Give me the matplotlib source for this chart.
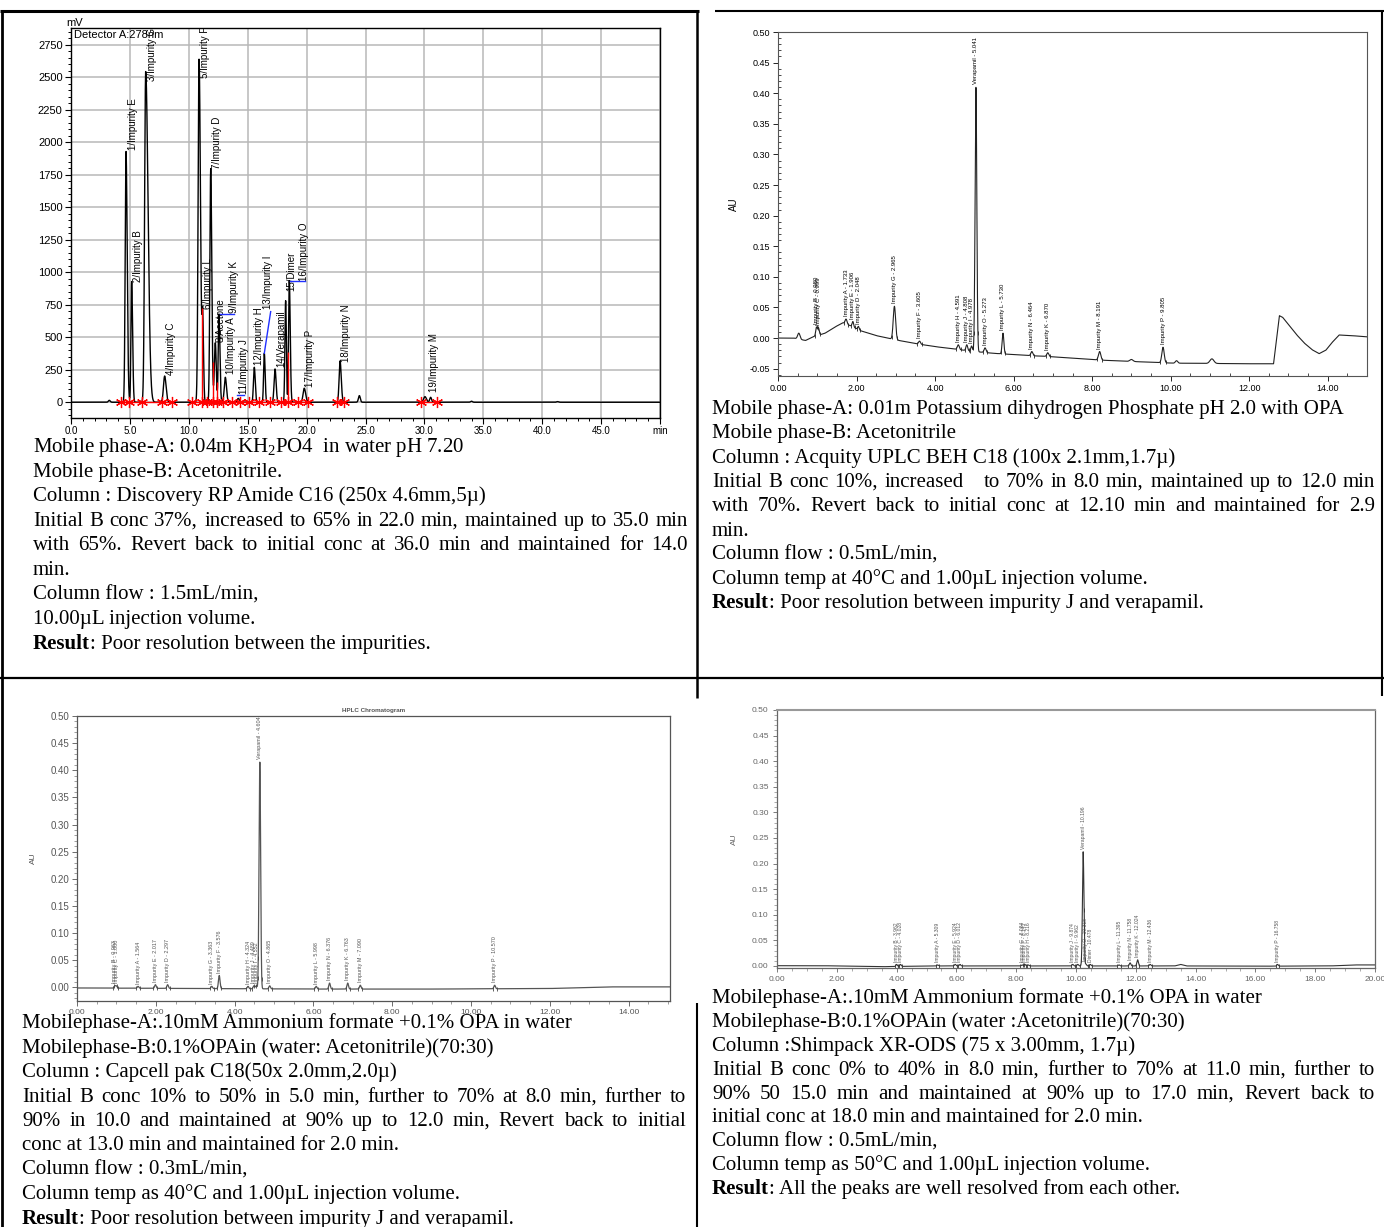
import numpy as np
import matplotlib
matplotlib.use("Agg")
from matplotlib import pyplot as plt
from matplotlib.ticker import MultipleLocator

W, H = 1384, 1227
plt.rcParams['font.family'] = ['Liberation Sans', 'DejaVu Sans']
plt.rcParams['mathtext.fontset'] = 'custom'
plt.rcParams['mathtext.rm'] = 'Liberation Serif'
plt.rcParams['mathtext.it'] = 'Liberation Serif:italic'

# ---------------- top left chromatogram (mV) ----------------
tl_names = ['1/Impurity E', '2/Impurity B', '3/Impurity G', '4/Impurity C', '5/Impurity F',
            '6/Impurity L', '7/Impurity D', '8/Acetone', '9/Impurity K', '10/Impurity A',
            '11/Impurity J', '12/Impurity H', '13/Impurity I', '14/Verapamil', '15/Dimer',
            '16/Impurity O', '17/Impurity P', '18/Impurity N', '19/Impurity M']
tl_times = [4.67, 5.15, 6.34, 7.95, 10.87, 11.18, 11.86, 12.25, 12.56, 13.1,
            14.2, 15.56, 16.41, 17.32, 18.22, 18.53, 19.8, 22.84, 30.05]
tl_apex = [1928, 928, 2543, 202, 2638, 723, 1797, 458, 679, 192,
           30, 269, 377, 256, 781, 935, 108, 318, 43]
tl_sig_l = [0.07, 0.06, 0.09, 0.1, 0.08, 0.06, 0.07, 0.08, 0.06, 0.09,
            0.1, 0.07, 0.06, 0.08, 0.06, 0.06, 0.1, 0.08, 0.12]
tl_sig_r = [0.1, 0.08, 0.2, 0.12, 0.12, 0.07, 0.09, 0.08, 0.08, 0.1,
            0.1, 0.08, 0.07, 0.09, 0.06, 0.08, 0.12, 0.1, 0.12]
tl_small_times = [3.25, 24.48, 30.53, 34.0, 41.3]
tl_small_apex = [15, 51, 38, 8, 5]
tl_label_t = [5.29, 5.71, 6.9, 8.46, 11.37, 11.66, 12.37, 12.73, 13.8, 13.55,
              14.69, 15.99, 16.75, 17.83, 18.72, 19.78, 20.29, 23.34, 30.84]
tl_label_v = [1941, 928, 2474, 210, 2492, 718, 1795, 461, 684, 218,
              64, 287, 718, 269, 859, 935, 115, 312, 82]
tl_leaders = [(12.65, 679, 13.8, 679), (14.1, 55, 14.65, 55),
              (16.41, 377, 16.95, 697), (18.62, 935, 19.9, 935)]
tl_cuts = [4.24, 4.95, 6.0, 7.7, 8.55, 10.3, 11.15, 11.57, 12.03, 12.37, 12.88, 13.7,
           14.35, 15.14, 15.96, 16.92, 17.83, 18.45, 19.3, 20.15, 22.55, 23.2, 29.71, 31.04]
tl_drops = [11.15, 12.03, 12.37, 12.88, 18.45]
tl_segments = [(4.24, 8.55), (10.3, 20.15), (22.55, 23.2), (29.71, 31.04)]

# ---------------- top right chromatogram (AU) ----------------
tr_names = ['Impurity B - 0.980', 'Impurity C - 0.999', 'Impurity A - 1.733', 'Impurity E - 1.906',
            'Impurity D - 2.048', 'Impurity G - 2.965', 'Impurity F - 3.605', 'Impurity H - 4.591',
            'Impurity J - 4.808', 'Impurity I - 4.978', 'Verapamil - 5.041', 'Impurity O - 5.273',
            'Impurity L - 5.730', 'Impurity N - 6.464', 'Impurity K - 6.870', 'Impurity M - 8.191',
            'Impurity P - 9.805']
tr_times = [0.98, 1.03, 1.733, 1.906, 2.048, 2.965, 3.605, 4.591, 4.808, 4.93,
            5.041, 5.273, 5.73, 6.464, 6.87, 8.191, 9.805]
tr_apex = [0.018, 0.017, 0.031, 0.027, 0.019, 0.052, -0.005, -0.011, -0.011, -0.013,
           0.41, -0.016, 0.008, -0.022, -0.024, -0.022, -0.015]
tr_sigma = [0.02, 0.02, 0.025, 0.02, 0.02, 0.03, 0.025, 0.025, 0.022, 0.02,
            0.022, 0.025, 0.022, 0.025, 0.025, 0.03, 0.03]
tr_small_times = [0.53, 9.0, 10.15, 11.05]
tr_small_apex = [0.008, -0.035, -0.037, -0.034]
tr_small_sigma = [0.03, 0.04, 0.03, 0.05]
tr_base_t = [0, 0.4, 0.7, 0.9, 1.2, 1.45, 1.65, 1.85, 2.1, 2.5, 3.0, 3.5, 4.0, 4.5, 5.0, 5.5,
             6.0, 6.5, 6.85, 8.2, 8.9, 10.06, 12.0, 12.62, 12.7, 12.77, 12.85, 13.0, 13.2,
             13.4, 13.6, 13.78, 13.95, 14.1, 14.29, 14.6, 15.0]
tr_base_v = [0, 0, -0.004, 0.002, 0.008, 0.018, 0.025, 0.02, 0.012, 0.004, -0.003, -0.009,
             -0.014, -0.018, -0.022, -0.025, -0.027, -0.029, -0.030, -0.036, -0.038, -0.041,
             -0.042, -0.042, 0.0, 0.0365, 0.034, 0.022, 0.006, -0.008, -0.019, -0.0255,
             -0.02, -0.008, 0.005, 0.004, 0.002]

# ---------------- bottom left chromatogram (AU) ----------------
bl_names = ['Impurity B - 0.963', 'Impurity C - 1.000', 'Impurity A - 1.564', 'Impurity E - 2.017',
            'Impurity D - 2.297', 'Impurity G - 3.363', 'Impurity F - 3.576', 'Impurity H - 4.324',
            'Impurity J - 4.489', 'Impurity I - 4.552', 'Verapamil - 4.604', 'Impurity O - 4.865',
            'Impurity L - 5.998', 'Impurity N - 6.376', 'Impurity K - 6.763', 'Impurity M - 7.090',
            'Impurity P - 10.570']
bl_times = [0.96, 1.0, 1.55, 1.99, 2.30, 3.42, 3.61, 4.34, 4.49, 4.55, 4.64, 4.89,
            6.07, 6.41, 6.87, 7.19, 10.6]
bl_apex = [0.003, 0.003, 0.002, 0.005, 0.005, 0.002, 0.022, 0.002, 0.003, 0.003, 0.415,
           0.003, 0.002, 0.008, 0.008, 0.004, 0.004]
bl_base_t = [0, 3, 6, 9, 12, 13.5, 15.05]
bl_base_v = [-0.001, -0.002, -0.003, -0.003, -0.002, 0.001, 0.001]

# ---------------- bottom right chromatogram (AU) ----------------
br_names = ['Impurity B - 3.962', 'Impurity C - 4.028', 'Impurity A - 5.309', 'Impurity E - 5.924',
            'Impurity D - 6.012', 'Impurity G - 8.084', 'Impurity F - 8.143', 'Impurity H - 8.216',
            'Impurity J - 9.874', 'Impurity I - 9.962', 'Verapamil - 10.196', 'Impurity O - 10.318',
            'Dimer - 10.478', 'Impurity L - 11.395', 'Impurity N - 11.758', 'Impurity K - 12.024',
            'Impurity M - 12.436', 'Impurity P - 16.758']
br_times = [4.0, 4.13, 5.37, 5.96, 6.12, 8.2, 8.29, 8.4, 9.89, 10.06, 10.24, 10.33,
            10.48, 11.44, 11.81, 12.06, 12.48, 16.74]
br_apex = [0.003, 0.003, 0.002, 0.003, 0.003, 0.002, 0.003, 0.002, 0.003, 0.003, 0.223,
           0.004, 0.003, 0.002, 0.006, 0.012, 0.003, 0.003]
br_base_t = [0, 1.5, 3.5, 5, 13.3, 13.5, 13.7, 16, 18.5, 19.3, 20]
br_base_v = [0.0005, 0.0005, -0.0015, 0, 0, 0.003, 0, -0.0005, 0, 0.002, 0.002]

# ---------------- text below the charts ----------------
tl_text = ['Mobile phase-A: 0.04m KH$_2$PO4  in water pH 7.20',
           'Mobile phase-B: Acetonitrile.',
           'Column : Discovery RP Amide C16 (250x 4.6mm,5\u00b5)',
           'Initial B conc 37%, increased to 65% in 22.0 min, maintained up to 35.0 min',
           'with 65%. Revert back to initial conc at 36.0 min and maintained for 14.0',
           'min.',
           'Column flow : 1.5mL/min,',
           '10.00\u00b5L injection volume.']
tl_result = ': Poor resolution between the impurities.'
tr_text = ['Mobile phase-A: 0.01m Potassium dihydrogen Phosphate pH 2.0 with OPA',
           'Mobile phase-B: Acetonitrile',
           'Column : Acquity UPLC BEH C18 (100x 2.1mm,1.7\u00b5)',
           'Initial B conc 10%, increased   to 70% in 8.0 min, maintained up to 12.0 min',
           'with 70%. Revert back to initial conc at 12.10 min and maintained for 2.9',
           'min.',
           'Column flow : 0.5mL/min,',
           'Column temp at 40\u00b0C and 1.00\u00b5L injection volume.']
tr_result = ': Poor resolution between impurity J and verapamil.'
bl_text = ['Mobilephase-A:.10mM Ammonium formate +0.1% OPA in water',
           'Mobilephase-B:0.1%OPAin (water: Acetonitrile)(70:30)',
           'Column : Capcell pak C18(50x 2.0mm,2.0\u00b5)',
           'Initial B conc 10% to 50% in 5.0 min, further to 70% at 8.0 min, further to',
           '90% in 10.0 and maintained at 90% up to 12.0 min, Revert back to initial',
           'conc at 13.0 min and maintained for 2.0 min.',
           'Column flow : 0.3mL/min,',
           'Column temp as 40\u00b0C and 1.00\u00b5L injection volume.']
bl_result = ': Poor resolution between impurity J and verapamil.'
br_text = ['Mobilephase-A:.10mM Ammonium formate +0.1% OPA in water',
           'Mobilephase-B:0.1%OPAin (water :Acetonitrile)(70:30)',
           'Column :Shimpack XR-ODS (75 x 3.00mm, 1.7\u00b5)',
           'Initial B conc 0% to 40% in 8.0 min, further to 70% at 11.0 min, further to',
           '90% 50 15.0 min and maintained at 90% up to 17.0 min, Revert back to',
           'initial conc at 18.0 min and maintained for 2.0 min.',
           'Column flow : 0.5mL/min,',
           'Column temp as 50\u00b0C and 1.00\u00b5L injection volume.']
br_result = ': All the peaks are well resolved from each other.'
justified = [3, 4]


def peak_shape(t, tc, sl, sr):
    s = np.where(t < tc, sl, sr)
    return np.exp(-0.5 * ((t - tc) / s) ** 2)


def make_trace(t, base_t, base_v, times, apex, sig_l, sig_r):
    times = np.asarray(times, float)
    n = len(times)
    g = np.zeros((n, n))
    for j in range(n):
        g[:, j] = peak_shape(times, times[j], sig_l[j], sig_r[j])
    amps = np.linalg.solve(g, np.asarray(apex, float) - np.interp(times, base_t, base_v))
    y = np.interp(t, base_t, base_v)
    for j in range(n):
        y = y + amps[j] * peak_shape(t, times[j], sig_l[j], sig_r[j])
    return y


fig = plt.figure(figsize=(W / 100, H / 100), dpi=100)


def axes_px(left, top, right, bottom):
    return fig.add_axes([left / W, 1 - bottom / H, (right - left) / W, (bottom - top) / H])


# overlay in pixel units for borders and text
ov = fig.add_axes([0, 0, 1, 1])
ov.set_xlim(0, W)
ov.set_ylim(H, 0)
ov.axis('off')

ov.plot([0, 699], [11, 11], color='black', lw=2.2, solid_capstyle='butt')
ov.plot([715, W], [10.5, 10.5], color='black', lw=1.5, solid_capstyle='butt')
ov.plot([0, W], [678, 678], color='black', lw=1.6, solid_capstyle='butt')
ov.plot([2, 2], [10, H], color='black', lw=2.0, solid_capstyle='butt')
ov.plot([697, 697], [10, 698], color='black', lw=1.8, solid_capstyle='butt')
ov.plot([697, 697], [1003, H], color='black', lw=1.5, solid_capstyle='butt')
ov.plot([1382, 1382], [10, 696], color='black', lw=1.5, solid_capstyle='butt')

renderer = fig.canvas.get_renderer()
TXT = dict(family='Liberation Serif', fontsize=15, va='baseline', color='black')


def width_of(t):
    return t.get_window_extent(renderer=renderer).width


def text_block(lines, result, x0, x1, y0, step):
    for i, line in enumerate(lines):
        y = y0 + i * step + 5
        if i in justified:
            words = line.split(' ')
            objs = [ov.text(0, y, w, **TXT) for w in words]
            widths = [width_of(o) if w else 0 for o, w in zip(objs, words)]
            gap = (x1 - x0 - sum(widths)) / (len(words) - 1)
            x = x0
            for o, wd in zip(objs, widths):
                o.set_x(x)
                x += wd + gap
        else:
            ov.text(x0, y, line, **TXT)
    y = y0 + len(lines) * step + 5
    b = ov.text(x0, y, 'Result', fontweight='bold', **TXT)
    ov.text(x0 + width_of(b), y, result, **TXT)


text_block(tl_text, tl_result, 33, 688, 447, 24.6)
text_block(tr_text, tr_result, 712, 1375, 409, 24.3)
text_block(bl_text, bl_result, 22, 686, 1023, 24.5)
text_block(br_text, br_result, 712, 1375, 998, 23.9)

# ---------------- top left ----------------
ax = axes_px(71, 28, 660, 418)
t = np.linspace(0, 50, 10001)
times = tl_times + tl_small_times
apex = tl_apex + tl_small_apex
sl = tl_sig_l + [0.08] * len(tl_small_times)
sr = tl_sig_r + [0.08] * len(tl_small_times)
y = make_trace(t, [0, 50], [0, 0], times, apex, sl, sr)
ax.plot(t, y, color='black', lw=1.0, zorder=3)
for a, b in tl_segments:
    ax.plot([a, b], [0, 0], color='red', lw=1.0, zorder=4)
ax.vlines(tl_drops, 0, np.interp(tl_drops, t, y), color='red', lw=1.0, zorder=4)
ax.plot(tl_cuts, np.zeros(len(tl_cuts)), ls='none', marker=(6, 2, 0), ms=8, mew=0.9,
        color='red', zorder=5)
for t0, v0, t1, v1 in tl_leaders:
    ax.plot([t0, t1], [v0, v1], color='#2030ff', lw=1.0, zorder=4)
for name, lt, lv in zip(tl_names, tl_label_t, tl_label_v):
    ax.text(lt, lv, name, rotation=90, ha='center', va='bottom', fontsize=7, clip_on=False)
ax.set_xlim(0, 50)
ax.set_ylim(-121, 2878)
ax.set_xticks(np.arange(0, 51, 5))
ax.set_xticklabels(['%.1f' % v for v in np.arange(0, 46, 5)] + ['min'], fontsize=7)
ax.set_yticks(np.arange(0, 2751, 250))
ax.set_yticklabels([str(v) for v in np.arange(0, 2751, 250)], fontsize=8)
ax.xaxis.set_minor_locator(MultipleLocator(1))
ax.yaxis.set_minor_locator(MultipleLocator(50))
ax.tick_params(which='major', direction='out', length=4, width=0.8, pad=2)
ax.tick_params(which='minor', direction='out', length=2.5, width=0.7)
ax.grid(which='major', color='#b8b8b8', lw=1.1, zorder=0)
ax.set_axisbelow(True)
for s in ax.spines.values():
    s.set_linewidth(1.0)
ax.text(0.005, 0.995, 'Detector A:278nm', transform=ax.transAxes, ha='left', va='top', fontsize=8)
ov.text(66, 23, 'mV', fontsize=8, ha='left', va='center')

# ---------------- top right ----------------
ax = axes_px(778, 32, 1367, 376)
t = np.linspace(0, 15, 7501)
times = tr_times + tr_small_times
apex = tr_apex + tr_small_apex
sig = tr_sigma + tr_small_sigma
y = make_trace(t, tr_base_t, tr_base_v, times, apex, sig, sig)
ax.plot(t, y, color='#222222', lw=0.8)
for name, tc, a, s in zip(tr_names, tr_times, tr_apex, tr_sigma):
    ax.annotate(name, (tc, a), xytext=(0, 2), textcoords='offset points', rotation=90,
                ha='center', va='bottom', fontsize=4.3, annotation_clip=False)
    edges = [tc - 2.3 * s, tc + 2.3 * s]
    ax.plot(edges, np.interp(edges, t, y), ls='none', marker='|', ms=3, mew=0.6, color='#222222')
ax.set_xlim(0, 15)
ax.set_ylim(-0.062, 0.50)
ax.set_xticks(np.arange(0, 15, 2))
ax.set_xticklabels(['%.2f' % v for v in np.arange(0, 15, 2)], fontsize=6.5)
ax.set_yticks(np.arange(-0.05, 0.501, 0.05))
ax.set_yticklabels(['%.2f' % v for v in np.arange(-0.05, 0.501, 0.05)], fontsize=6.5)
ax.xaxis.set_minor_locator(MultipleLocator(0.5))
ax.yaxis.set_minor_locator(MultipleLocator(0.01))
ax.tick_params(which='major', direction='out', length=3.5, width=0.6, pad=2)
ax.tick_params(which='minor', direction='in', length=2.5, width=0.5)
for s in ax.spines.values():
    s.set_linewidth(0.8)
    s.set_color('#555555')
ax.set_ylabel('AU', fontsize=7, labelpad=8)

# ---------------- bottom left ----------------
ax = axes_px(77, 716, 670, 1001)
t = np.linspace(0, 15.05, 7526)
sig = [0.02] * len(bl_times)
y = make_trace(t, bl_base_t, bl_base_v, bl_times, bl_apex, sig, sig)
ax.plot(t, y, color='#555555', lw=0.9)
for name, tc, a in zip(bl_names, bl_times, bl_apex):
    ax.annotate(name, (tc, a), xytext=(0, 2), textcoords='offset points', rotation=90,
                ha='center', va='bottom', fontsize=3.9, color='#555555', annotation_clip=False)
    edges = [tc - 0.05, tc + 0.05]
    ax.plot(edges, np.interp(edges, t, y), ls='none', marker='|', ms=3, mew=0.6, color='#444444')
ax.set_xlim(0, 15.05)
ax.set_ylim(-0.025, 0.50)
ax.set_xticks(np.arange(0, 15, 2))
ax.set_xticklabels(['%.2f' % v for v in np.arange(0, 15, 2)], fontsize=6, color='#555555')
ax.set_yticks(np.arange(0, 0.501, 0.05))
ax.set_yticklabels(['%.2f' % v for v in np.arange(0, 0.501, 0.05)], fontsize=7, color='#555555')
ax.xaxis.set_minor_locator(MultipleLocator(0.5))
ax.yaxis.set_minor_locator(MultipleLocator(0.01))
ax.tick_params(which='major', direction='out', length=3.5, width=0.6, pad=2, color='#555555')
ax.tick_params(which='minor', direction='out', length=2, width=0.5, color='#777777')
for s in ax.spines.values():
    s.set_linewidth(0.9)
    s.set_color('#555555')
ax.set_ylabel('AU', fontsize=6, color='#555555', labelpad=10)
ax.set_title('HPLC Chromatogram', fontsize=4.5, fontweight='bold', color='#555555', pad=3)

# ---------------- bottom right ----------------
ax = axes_px(777, 710, 1375, 968)
t = np.linspace(0, 20, 10001)
sig = [0.025] * len(br_times)
y = make_trace(t, br_base_t, br_base_v, br_times, br_apex, sig, sig)
ax.plot(t, y, color='#333333', lw=0.8)
for name, tc, a in zip(br_names, br_times, br_apex):
    ax.annotate(name, (tc, a), xytext=(0, 2), textcoords='offset points', rotation=90,
                ha='center', va='bottom', fontsize=3.6, color='#555555', annotation_clip=False)
    edges = [tc - 0.06, tc + 0.06]
    ax.plot(edges, np.interp(edges, t, y), ls='none', marker='|', ms=3, mew=0.6, color='#333333')
ax.set_xlim(0, 20)
ax.set_ylim(-0.004, 0.50)
ax.set_xticks(np.arange(0, 21, 2))
ax.set_xticklabels(['%.2f' % v for v in np.arange(0, 21, 2)], fontsize=6, color='#666666')
ax.set_yticks(np.arange(0, 0.501, 0.05))
ax.set_yticklabels(['%.2f' % v for v in np.arange(0, 0.501, 0.05)], fontsize=6, color='#666666')
ax.xaxis.set_minor_locator(MultipleLocator(0.5))
ax.yaxis.set_minor_locator(MultipleLocator(0.01))
ax.tick_params(which='major', direction='out', length=3, width=0.6, pad=3, color='#666666')
ax.tick_params(which='minor', direction='out', length=2, width=0.5, color='#888888')
for s in ax.spines.values():
    s.set_linewidth(0.9)
    s.set_color('#666666')
ax.spines['top'].set_color('#999999')
ax.spines['top'].set_linewidth(1.5)
ax.set_ylabel('AU', fontsize=6, color='#666666', labelpad=10)

fig.savefig('out.png', dpi=100)
